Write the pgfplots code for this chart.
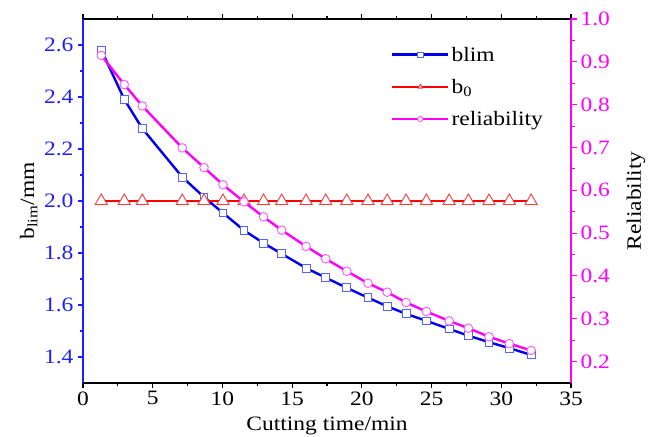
\documentclass[border=0pt]{standalone}
\usepackage{fontspec}
\setmainfont{Liberation Serif}[FakeStretch=1.15]
\usepackage{pgfplots}
\usepackage{pgfplotstable}
\pgfplotsset{compat=1.18}

\definecolor{blimline}{RGB}{0,0,240}
\definecolor{blimmark}{RGB}{85,100,250}
\definecolor{bzeroline}{RGB}{255,0,0}
\definecolor{bzeromark}{RGB}{250,60,60}
\definecolor{relline}{RGB}{255,0,255}
\definecolor{relmark}{RGB}{250,90,250}
\definecolor{axblue}{RGB}{30,30,255}

\pgfplotstableread{
t      blim   bzero  rel
1.31   2.581  2.0    0.915
2.96   2.391  2.0    0.847
4.25   2.279  2.0    0.797
7.12   2.092  2.0    0.699
8.68   2.015  2.0    0.653
10.04  1.954  2.0    0.613
11.55  1.887  2.0    0.573
12.95  1.838  2.0    0.538
14.25  1.797  2.0    0.507
16.00  1.742  2.0    0.469
17.41  1.705  2.0    0.440
18.92  1.666  2.0    0.411
20.44  1.628  2.0    0.383
21.82  1.595  2.0    0.362
23.17  1.566  2.0    0.338
24.63  1.539  2.0    0.317
26.26  1.508  2.0    0.295
27.64  1.482  2.0    0.278
29.12  1.457  2.0    0.258
30.58  1.434  2.0    0.242
32.14  1.408  2.0    0.226
}\datatable

\pgfplotsset{
  blimstyle/.style={blimline, line width=2.4bp, mark=square*,
    mark size=3.9bp, mark options={fill=white, draw=blimmark, line width=0.9bp}},
  bzerostyle/.style={bzeroline, line width=2.4bp, mark=triangle*,
    mark size=7bp, mark options={fill=white, draw=bzeromark, line width=0.9bp}},
  relstyle/.style={relline, line width=2.4bp, mark=*,
    mark size=4.3bp, mark options={fill=white, draw=relmark, line width=0.9bp}},
  common/.style={
    scale only axis, width=488bp, height=364bp,
    xmin=0, xmax=35,
    /pgf/number format/assume math mode=true,
  },
}

\begin{document}
\begin{tikzpicture}[font=\fontsize{20.5}{24}\selectfont]
  \begin{axis}[
    common, name=ax,
    ymin=1.3, ymax=2.7,
    axis on top,
    separate axis lines,
    xtick pos=both, ytick pos=left,
    xtick={0,5,10,15,20,25,30,35}, minor x tick num=1,
    ytick={1.4,1.6,1.8,2.0,2.2,2.4,2.6}, minor y tick num=1,
    tick align=outside,
    major tick length=5bp, minor tick length=3bp,
    x axis line style={black, line width=1.2bp},
    y axis line style={axblue, line width=1.2bp},
    x tick style={black, line width=1.1bp},
    y tick style={axblue, line width=1.1bp},
    yticklabel style={axblue, xshift=-1bp, /pgf/number format/fixed,
      /pgf/number format/precision=1, /pgf/number format/fixed zerofill},
    xlabel={Cutting time/min},
    xlabel style={yshift=-5bp},
    ylabel={b\textsubscript{lim}/mm},
  ]
    \addplot[blimstyle] table[x=t, y=blim] {\datatable};
    \addplot[bzerostyle] table[x=t, y=bzero] {\datatable};
  \end{axis}
  \begin{axis}[
    common,
    ymin=0.15, ymax=1.0,
    axis x line=none, axis y line*=right,
    ytick={0.2,0.3,0.4,0.5,0.6,0.7,0.8,0.9,1.0}, minor y tick num=1,
    tick align=outside,
    major tick length=6bp, minor tick length=3.5bp,
    y axis line style={relline, line width=1.2bp},
    y tick style={relline, line width=1.1bp},
    yticklabel style={relline, /pgf/number format/fixed,
      /pgf/number format/precision=1, /pgf/number format/fixed zerofill},
    ylabel={Reliability},
    ylabel style={yshift=-10bp},
    legend style={draw=none, fill=none, at={(rel axis cs:0.625,0.935)},
      anchor=north west, row sep=12.5bp},
    legend cell align=left,
    legend image code/.code={\draw[mark repeat=2, mark phase=2, mark size=2.6bp]
      plot coordinates {(0bp,0bp) (28bp,0bp) (56bp,0bp)};},
  ]
    \addlegendimage{blimstyle}
    \addlegendentry{blim}
    \addlegendimage{bzerostyle}
    \addlegendentry{b\textsubscript{0}}
    \addplot[relstyle] table[x=t, y=rel] {\datatable};
    \addlegendentry{reliability}
  \end{axis}
  \pgfresetboundingbox
  \path ([shift={(-83bp,-54bp)}]ax.south west) rectangle ([shift={(90bp,19bp)}]ax.north east);
\end{tikzpicture}
\end{document}
